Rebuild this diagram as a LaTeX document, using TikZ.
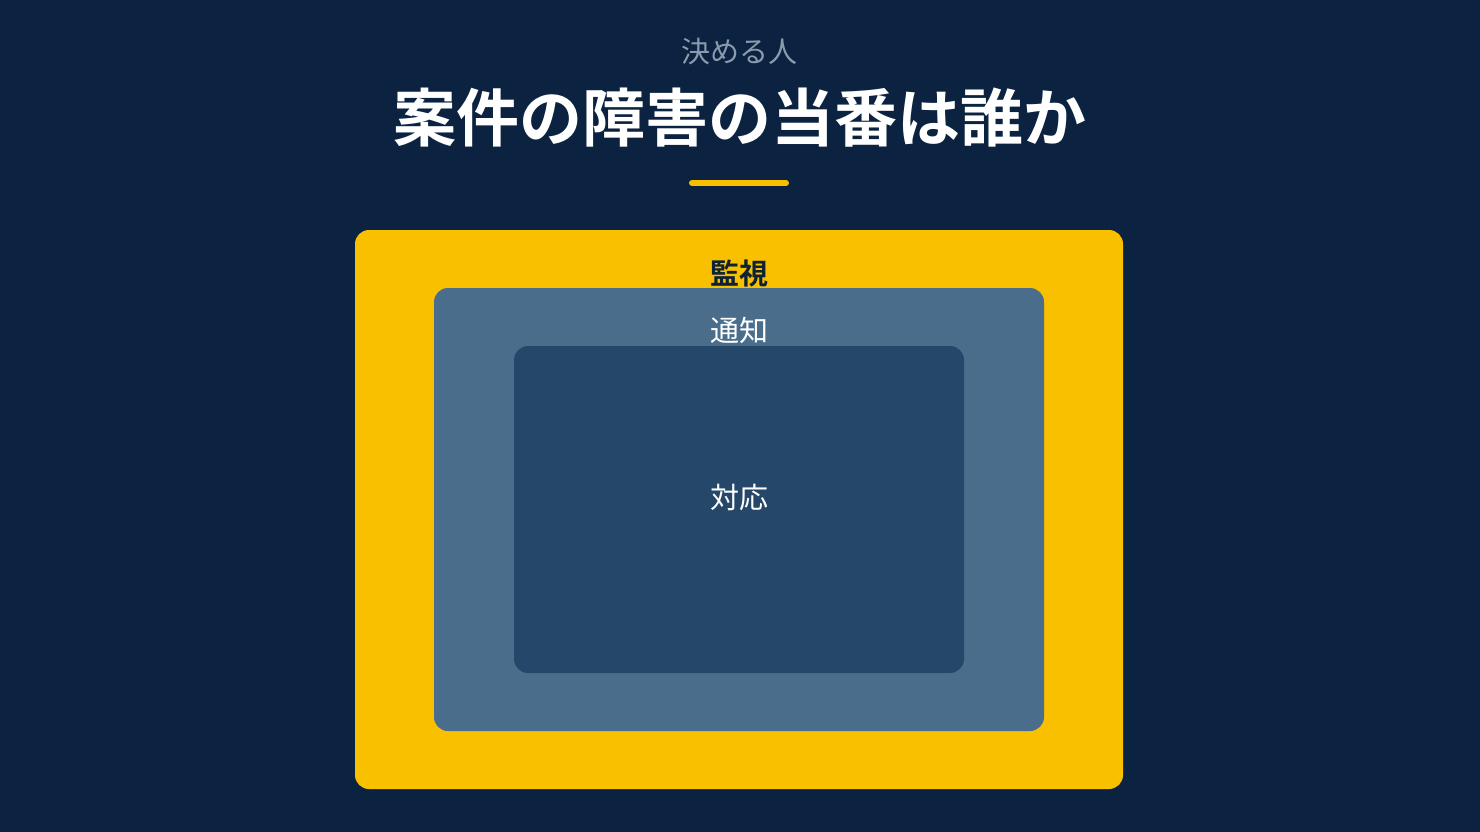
\documentclass[tikz,border=0pt]{standalone}
\usepackage{fontspec}
\usepackage{xcolor}
\usepackage{tikz}
\usetikzlibrary{positioning}
\newfontfamily\cjk{Noto Sans CJK JP}[BoldFont={* Bold}]
\definecolor{bgnavy}{HTML}{0B2340}
\definecolor{ringgold}{HTML}{F9C000}
\definecolor{ringsteel}{HTML}{4A6D8C}
\definecolor{ringdeep}{HTML}{24476A}
\definecolor{subgrey}{HTML}{8A9BAD}
\definecolor{inkdark}{HTML}{0E2236}

\tikzset{
    ring/.style={rounded corners=14pt},
    ringlabel/.style={font=\cjk\fontsize{29}{32}\selectfont, inner sep=0pt}
}

\begin{document}
\begin{tikzpicture}[x=1pt,y=-1pt]
    \fill[bgnavy] (0,0) rectangle (1480,832);
    \useasboundingbox (0,0) rectangle (1480,832);

    \node[font=\cjk\fontsize{29}{32}\selectfont, text=subgrey, inner sep=0pt] (sub) at (739,52) {決める人};
    \node[font=\cjk\bfseries\fontsize{63}{66}\selectfont, text=white, inner sep=0pt] (title) at (740,118) {案件の障害の当番は誰か};
    \coordinate (barl) at (692,183);
    \coordinate (barr) at (786,183);
    \draw[ringgold, line width=6pt, line cap=round] (barl) -- (barr);

    % nested areas
    \fill[ring, ringgold] (355,230) rectangle (1123,789);
    \fill[ring, ringsteel] (434,288) rectangle (1044,731);
    \fill[ring, ringdeep] (514,346) rectangle (964,673);

    \node[ringlabel, font=\cjk\bfseries\fontsize{29}{32}\selectfont, text=inkdark] (watch) at (739,273) {監視};
    \node[ringlabel, text=white] (notify) at (739,330) {通知};
    \node[ringlabel, text=white] (respond) at (739,497) {対応};
\end{tikzpicture}
\end{document}
